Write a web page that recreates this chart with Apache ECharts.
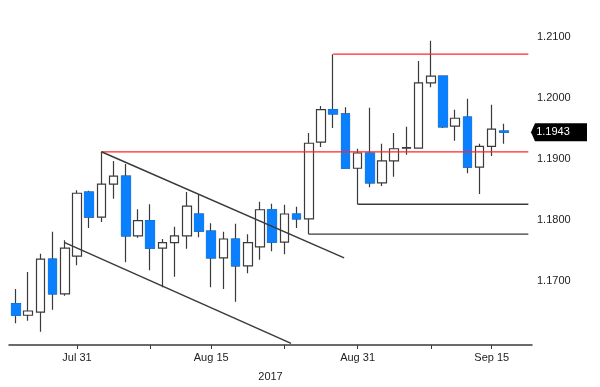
<!DOCTYPE html>
<html><head><meta charset="utf-8">
<script src="https://cdn.jsdelivr.net/npm/echarts@6/dist/echarts.min.js"></script>
<style>html,body{margin:0;padding:0;background:#fff}#c{width:600px;height:387px}</style>
</head><body><div id="c"></div>
<script>
// ---- data ----
const dates = ['Jul 24','Jul 25','Jul 26','Jul 27','Jul 28','Jul 31','Aug 1','Aug 2','Aug 3','Aug 4','Aug 7','Aug 8','Aug 9','Aug 10','Aug 11','Aug 14','Aug 15','Aug 16','Aug 17','Aug 18','Aug 21','Aug 22','Aug 23','Aug 24','Aug 25','Aug 28','Aug 29','Aug 30','Aug 31','Sep 1','Sep 4','Sep 5','Sep 6','Sep 7','Sep 8','Sep 11','Sep 12','Sep 13','Sep 14','Sep 15','Sep 18'];
const opens  = [1.1662,1.1643,1.1648,1.1735,1.1678,1.1740,1.1845,1.1804,1.1858,1.1871,1.1773,1.1798,1.1753,1.1762,1.1773,1.1809,1.1781,1.1737,1.1768,1.1724,1.1755,1.1816,1.1763,1.1809,1.1801,1.1927,1.1980,1.1973,1.1884,1.1909,1.1860,1.1896,1.1917,1.1917,1.2024,1.2035,1.1953,1.1968,1.1886,1.1920,1.1945];
const closes = [1.1643,1.1650,1.1735,1.1678,1.1753,1.1843,1.1804,1.1858,1.1871,1.1773,1.1798,1.1753,1.1762,1.1773,1.1822,1.1781,1.1737,1.1768,1.1724,1.1762,1.1816,1.1763,1.1809,1.1801,1.1925,1.1980,1.1973,1.1884,1.1909,1.1860,1.1896,1.1916,1.1918,1.2024,1.2035,1.1952,1.1966,1.1886,1.1920,1.1948,1.1943];
const lows   = [1.1630,1.1634,1.1616,1.1652,1.1675,1.1725,1.1786,1.1796,1.1834,1.1730,1.1770,1.1717,1.1689,1.1706,1.1752,1.1771,1.1689,1.1686,1.1665,1.1712,1.1734,1.1748,1.1743,1.1786,1.1776,1.1919,1.1950,1.1884,1.1825,1.1853,1.1855,1.1870,1.1906,1.1917,1.2017,1.1950,1.1929,1.1876,1.1842,1.1904,1.1924];
const highs  = [1.1686,1.1714,1.1744,1.1780,1.1766,1.1848,1.1847,1.1911,1.1896,1.1891,1.1817,1.1825,1.1768,1.1788,1.1845,1.1840,1.1794,1.1780,1.1793,1.1776,1.1829,1.1826,1.1824,1.1821,1.1942,1.1986,1.2071,1.1984,1.1916,1.1983,1.1924,1.1942,1.1952,1.2060,1.2093,1.2035,1.1980,1.1998,1.1924,1.1988,1.1957];
const xLabelDates = ['Jul 31','Aug 15','Aug 31','Sep 15'];
const xMinorDates = ['Aug 8','Aug 23','Sep 8'];
const yTicks = [1.17,1.18,1.19,1.20,1.21];
const yearLabel = '2017';
// horizontal levels: [start index, value]
const redLevels = [[26, highs[26]], [7, highs[7]]];
const blackLevels = [[28, lows[28]], [24, lows[24]]];
const levelEnd = 42;
// channel trend lines: [[x0,y0],[x1,y1]] in (index, price)
const channelUpper = [[7, 1.1911], [26.9, 1.1737]];
const channelLower = [[4, 1.1762], [22.55, 1.1597]];

// ---- chart ----
const FONT = "'Liberation Sans Narrow','Liberation Sans',sans-serif";
const BLUE = '#0a80ff';
const DARK = '#3a3a3a';
const RED = '#ff2626';
const xMin = -0.574, xMax = 42.3;
const lastClose = closes[closes.length - 1];
const ohlc = dates.map((d, i) => [i, opens[i], closes[i], lows[i], highs[i]]);
const downBodies = [];
dates.forEach((d, i) => { if (opens[i] > closes[i]) downBodies.push([i, opens[i], closes[i], closes[i], opens[i]]); });
const idx = d => dates.indexOf(d);

function lineSeries(points, color, width) {
  return { type: 'line', data: points, symbol: 'none', silent: true, z: 5,
    lineStyle: { color: color, width: width }, animation: false };
}

const series = [
  { type: 'candlestick', data: ohlc, encode: { x: 0, y: [1, 2, 3, 4] }, barWidth: 9,
    itemStyle: { color: '#ffffff', color0: BLUE, borderColor: DARK, borderColor0: DARK, borderWidth: 1.2 },
    silent: true, animation: false, z: 2,
    markPoint: {
      silent: true, animation: false,
      symbol: 'path://M0,9L4,0L56,0L56,18L4,18Z', symbolSize: [56, 18], symbolOffset: [27, 0],
      itemStyle: { color: '#000' },
      label: { show: true, formatter: lastClose.toFixed(4), color: '#fff', fontSize: 11, fontFamily: FONT, position: 'inside', offset: [-6, 0] },
      data: [{ coord: [xMax, lastClose] }]
    }
  },
  { type: 'candlestick', data: downBodies, encode: { x: 0, y: [1, 2, 3, 4] }, barWidth: 9,
    itemStyle: { color: '#ffffff', color0: BLUE, borderColor: BLUE, borderColor0: BLUE, borderWidth: 1 },
    silent: true, animation: false, z: 3 }
];
redLevels.forEach(l => series.push(lineSeries([[l[0], l[1]], [levelEnd, l[1]]], RED, 1.3)));
blackLevels.forEach(l => series.push(lineSeries([[l[0], l[1]], [levelEnd, l[1]]], DARK, 1.3)));
series.push(lineSeries(channelUpper, DARK, 1.5));
series.push(lineSeries(channelLower, DARK, 1.5));

const chart = echarts.init(document.getElementById('c'), null, { renderer: 'canvas' });
chart.setOption({
  backgroundColor: '#fff',
  animation: false,
  grid: { left: 9, right: 68, top: 20, bottom: 42, containLabel: false },
  xAxis: {
    type: 'value', min: xMin, max: xMax,
    name: yearLabel, nameLocation: 'middle', nameGap: 26,
    nameTextStyle: { fontFamily: FONT, fontSize: 11, color: '#222' },
    axisLine: { show: true, lineStyle: { color: DARK, width: 1.5 } },
    axisTick: { show: true, length: 4, lineStyle: { color: DARK, width: 1 },
      customValues: xLabelDates.concat(xMinorDates).map(idx) },
    axisLabel: { show: true, margin: 7, fontFamily: FONT, fontSize: 11, color: '#222',
      customValues: xLabelDates.map(idx), formatter: v => dates[Math.round(v)] },
    splitLine: { show: false }
  },
  yAxis: {
    type: 'value', position: 'right', min: 1.159426, max: 1.212705,
    axisLine: { show: false }, axisTick: { show: false }, splitLine: { show: false },
    axisLabel: { show: true, margin: 5, align: 'left', fontFamily: FONT, fontSize: 11, color: '#222',
      customValues: yTicks, formatter: v => v.toFixed(4) }
  },
  series: series
});
</script></body></html>
